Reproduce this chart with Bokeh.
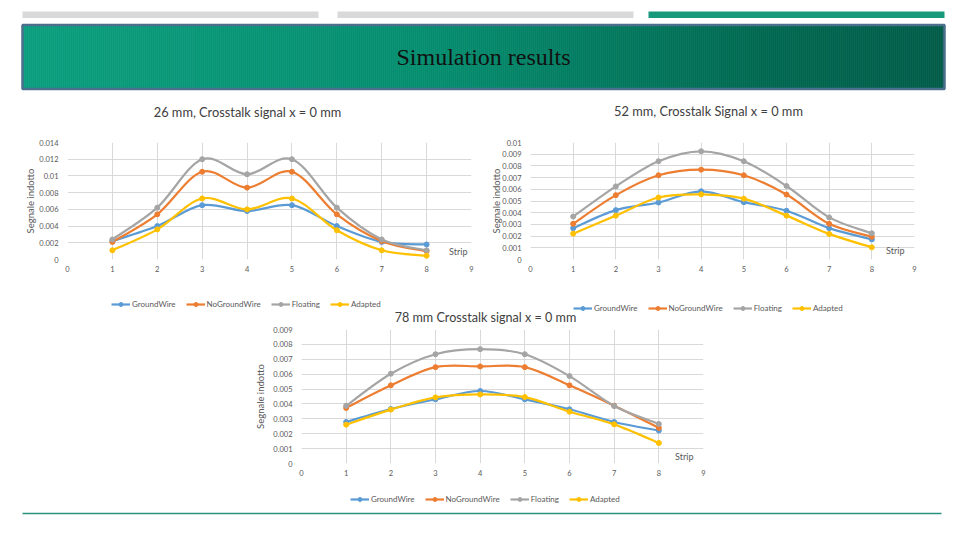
import numpy as np
from bokeh.plotting import figure
from bokeh.models import Range1d, FixedTicker, Label, Legend, LegendItem, Spacer
from bokeh.layouts import column, row
from bokeh.embed import file_html
from bokeh.resources import INLINE
from bokeh.core.properties import value

# ---------------- data ----------------
strips = [1, 2, 3, 4, 5, 6, 7, 8]
series_names = ["GroundWire", "NoGroundWire", "Floating", "Adapted"]
series_colors = ["#5B9BD5", "#ED7D31", "#A5A5A5", "#FFC000"]

ground_26 = [0.0022, 0.0040, 0.0065, 0.0058, 0.0065, 0.0040, 0.0021, 0.0018]
noground_26 = [0.0021, 0.0054, 0.0105, 0.0086, 0.0105, 0.0054, 0.0022, 0.0010]
floating_26 = [0.0024, 0.0062, 0.0120, 0.0102, 0.0120, 0.0062, 0.0024, 0.0011]
adapted_26 = [0.0011, 0.0036, 0.0073, 0.0060, 0.0073, 0.0035, 0.0011, 0.00045]

ground_52 = [0.00268, 0.00422, 0.00487, 0.00583, 0.00490, 0.00417, 0.00268, 0.00172]
noground_52 = [0.00305, 0.00550, 0.00720, 0.00768, 0.00720, 0.00555, 0.00305, 0.00195]
floating_52 = [0.00367, 0.00625, 0.00840, 0.00925, 0.00840, 0.00628, 0.00360, 0.00224]
adapted_52 = [0.00221, 0.00375, 0.00530, 0.00557, 0.00520, 0.00375, 0.00219, 0.00104]

ground_78 = [0.00279, 0.00366, 0.00431, 0.00487, 0.00431, 0.00364, 0.00279, 0.00221]
noground_78 = [0.00373, 0.00525, 0.00647, 0.00652, 0.00647, 0.00525, 0.00388, 0.00239]
floating_78 = [0.00388, 0.00603, 0.00734, 0.00768, 0.00734, 0.00587, 0.00386, 0.00266]
adapted_78 = [0.00261, 0.00362, 0.00444, 0.00464, 0.00446, 0.00348, 0.00263, 0.00138]

x_ticks = [0, 1, 2, 3, 4, 5, 6, 7, 8, 9]
y_ticks_26 = [0, 0.002, 0.004, 0.006, 0.008, 0.01, 0.012, 0.014]
y_labels_26 = ["0", "0.002", "0.004", "0.006", "0.008", "0.01", "0.012", "0.014"]
y_ticks_52 = [0, 0.001, 0.002, 0.003, 0.004, 0.005, 0.006, 0.007, 0.008, 0.009, 0.01]
y_labels_52 = ["0", "0.001", "0.002", "0.003", "0.004", "0.005", "0.006", "0.007", "0.008", "0.009", "0.01"]
y_ticks_78 = [0, 0.001, 0.002, 0.003, 0.004, 0.005, 0.006, 0.007, 0.008, 0.009]
y_labels_78 = ["0", "0.001", "0.002", "0.003", "0.004", "0.005", "0.006", "0.007", "0.008", "0.009"]

title_26 = "26 mm, Crosstalk signal x = 0 mm"
title_52 = "52 mm, Crosstalk Signal x = 0 mm"
title_78 = "78 mm Crosstalk signal x = 0 mm"
slide_title = "Simulation results"
y_axis_title = "Segnale indotto"
x_axis_title = "Strip"

FONT = "Lato"
TXT = "#595959"
TITLE_C = "#404040"
LINE_W = 2.2


def smooth(xs, ys):
    x = np.asarray(xs, float)
    y = np.asarray(ys, float)
    n = len(x)
    xp = np.concatenate([[x[0]], x, [x[-1]]])
    yp = np.concatenate([[y[0]], y, [y[-1]]])
    return dict(
        x0=x[:-1], y0=y[:-1], x1=x[1:], y1=y[1:],
        cx0=x[:-1] + (xp[2:n + 1] - xp[0:n - 1]) / 6.0,
        cy0=y[:-1] + (yp[2:n + 1] - yp[0:n - 1]) / 6.0,
        cx1=x[1:] - (xp[3:n + 2] - xp[1:n]) / 6.0,
        cy1=y[1:] - (yp[3:n + 2] - yp[1:n]) / 6.0,
    )


def make_chart(series, yticks, ylabels, w, h, bl, br, bt, bb, strip_dx, strip_dy, label_standoff):
    ymax = yticks[-1]
    p = figure(width=w, height=h, x_range=Range1d(0, 9), y_range=Range1d(0, ymax),
               output_backend="svg", toolbar_location=None,
               min_border_left=bl, min_border_right=br, min_border_top=bt, min_border_bottom=bb)
    p.outline_line_color = None
    p.background_fill_color = "white"
    p.border_fill_color = "white"

    p.xaxis.ticker = FixedTicker(ticks=x_ticks)
    p.xgrid.ticker = FixedTicker(ticks=x_ticks)
    p.yaxis.ticker = FixedTicker(ticks=yticks)
    p.ygrid.ticker = FixedTicker(ticks=yticks)
    p.yaxis.major_label_overrides = {t: l for t, l in zip(yticks, ylabels)}
    p.grid.grid_line_color = "#d9d9d9"
    p.grid.grid_line_width = 1
    for ax in (p.xaxis[0], p.yaxis[0]):
        ax.axis_line_color = None
        ax.major_tick_line_color = None
        ax.minor_tick_line_color = None
        ax.major_tick_out = 0
        ax.major_tick_in = 0
        ax.major_label_text_font = FONT
        ax.major_label_text_font_size = "7.5px"
        ax.major_label_text_color = TXT
    p.xaxis.major_label_standoff = 6
    p.yaxis.major_label_standoff = 9
    p.yaxis.axis_label = y_axis_title
    p.yaxis.axis_label_text_font = FONT
    p.yaxis.axis_label_text_font_style = "normal"
    p.yaxis.axis_label_text_font_size = "9.5px"
    p.yaxis.axis_label_text_color = TXT
    p.yaxis.axis_label_standoff = label_standoff

    for color, ys in zip(series_colors, series):
        p.bezier(line_color=color, line_width=LINE_W, **smooth(strips, ys))
        p.scatter(strips, ys, marker="circle", size=5, fill_color=color, line_color=color)

    p.add_layout(Label(x=9, y=0, x_offset=strip_dx, y_offset=strip_dy, text=x_axis_title,
                       text_align="right", text_baseline="middle", text_font=FONT,
                       text_font_size="9px", text_color=TXT))
    return p


def deco_fig(w, h, y_top, y_bottom):
    f = figure(width=w, height=h, x_range=Range1d(0, w), y_range=Range1d(y_bottom, y_top),
               output_backend="svg", toolbar_location=None, min_border=0,
               x_axis_location=None, y_axis_location=None)
    f.grid.visible = False
    f.outline_line_color = None
    f.background_fill_color = "white"
    return f


def add_legend(f, series, loc):
    # the series are drawn here only as legend styling; their values fall outside this strip's range
    items = []
    for name, color, ys in zip(series_names, series_colors, series):
        rl = f.line(strips, ys, line_color=color, line_width=LINE_W)
        rs = f.scatter(strips, ys, marker="circle", size=5, fill_color=color, line_color=color)
        items.append(LegendItem(label=name, renderers=[rl, rs]))
    leg = Legend(items=items, orientation="horizontal", location=loc,
                 border_line_color=None, background_fill_alpha=0, padding=0, margin=0,
                 spacing=10, glyph_width=19, glyph_height=10, label_height=10, label_standoff=2,
                 label_text_font=FONT, label_text_font_size="8px", label_text_color=TXT)
    f.add_layout(leg, "center")


s26 = [ground_26, noground_26, floating_26, adapted_26]
s52 = [ground_52, noground_52, floating_52, adapted_52]
s78 = [ground_78, noground_78, floating_78, adapted_78]

# chart 1: page x 0..485, y 125..285 ; frame x 67..471, y 142..259
c1 = make_chart(s26, y_ticks_26, y_labels_26, 485, 160, 67, 14, 17, 26, -4, 8, 0)
# chart 2: page x 485..960, y 125..285 ; frame x 530..914, y 136..264
c2 = make_chart(s52, y_ticks_52, y_labels_52, 475, 160, 45, 46, 11, 21, -10, 9, -3)
# chart 3: page x 245..720, y 324..485 ; frame x 301..703, y 329..463
c3 = make_chart(s78, y_ticks_78, y_labels_78, 475, 161, 56, 17, 5, 22, -10, 7, 4)

# ---------------- header: slide decorations + upper chart titles ----------------
head = deco_fig(960, 125, 0, 125)
head.quad(left=[22, 337, 648], right=[318, 633, 944], top=[11, 11, 11], bottom=[17.5, 17.5, 17.5],
          fill_color=["#d9d9d9", "#d9d9d9", "#179a7b"], line_color=None)
edges = np.linspace(22, 944, 462)
stops_t = [0.0, 0.45, 0.8, 1.0]
stops_c = np.array([[10, 158, 126], [4, 140, 110], [0, 104, 80], [0, 92, 72]], float)
mid = (edges[:-1] + edges[1:]) / 2
tt = (mid - 22) / (944 - 22)
cols = []
for t in tt:
    r = [np.interp(t, stops_t, stops_c[:, k]) for k in range(3)]
    cols.append("#%02x%02x%02x" % tuple(int(round(v)) for v in r))
head.quad(left=edges[:-1], right=edges[1:], top=25, bottom=88, fill_color=cols, line_color=cols,
          line_width=0.6)
head.quad(left=[22], right=[944], top=[24.5], bottom=[88.5], fill_color=None,
          line_color="#4b6f8c", line_width=2.5)
head.text(x=[483], y=[56], text=[slide_title], text_font=value("Liberation Serif"),
          text_font_size="24px", text_align="center", text_baseline="middle", text_color="#111111")
head.text(x=[247, 708], y=[111, 110], text=[title_26, title_52], text_font=value(FONT),
          text_font_size="12.8px", text_align="center", text_baseline="middle", text_color=TITLE_C)

# ---------------- middle strip: legends of charts 1-2, title of chart 3 (page y 285..324) ----------------
midf = deco_fig(960, 39, 285, 324)
add_legend(midf, s26, (111, 324 - 309))
add_legend(midf, s52, (573, 324 - 313))
midf.text(x=[485], y=[317], text=[title_78], text_font=value(FONT),
          text_font_size="12.6px", text_align="center", text_baseline="middle", text_color=TITLE_C)

# ---------------- footer: legend of chart 3 + rule (page y 485..540) ----------------
foot = deco_fig(960, 55, 485, 540)
add_legend(foot, s78, (350, 540 - 504))
foot.segment(x0=[22], y0=[513], x1=[941], y1=[513], line_color="#2a9080", line_width=1.5)

layout = column(head,
                row(c1, c2),
                midf,
                row(Spacer(width=245, height=161), c3, Spacer(width=240, height=161)),
                foot)

open("out.html", "w").write(file_html(layout, INLINE))
